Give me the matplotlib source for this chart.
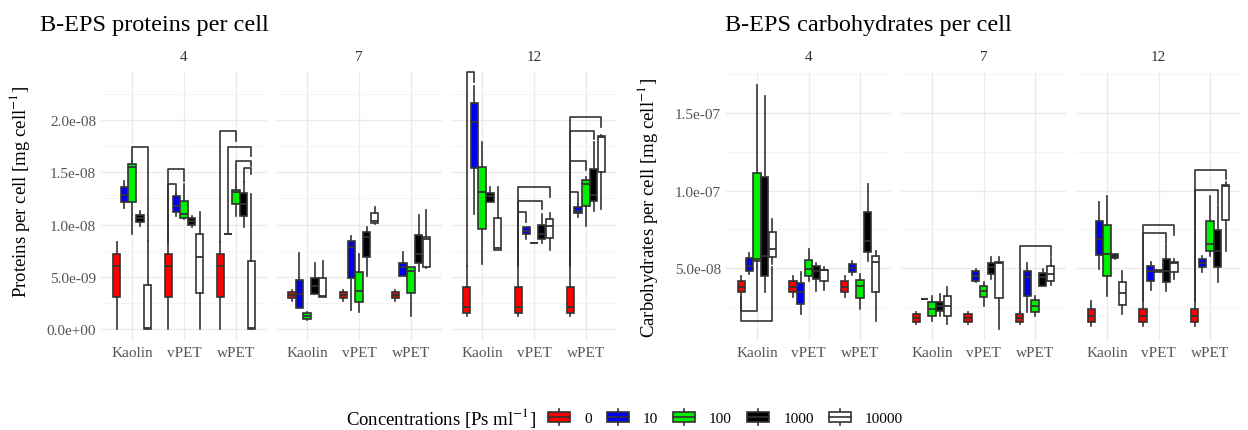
import matplotlib
matplotlib.use("Agg")
import matplotlib.pyplot as plt
from matplotlib.legend_handler import HandlerBase
from matplotlib.patches import Rectangle, Patch
from matplotlib.lines import Line2D
from matplotlib.ticker import FormatStrFormatter, MultipleLocator

plt.rcParams['font.family'] = ['Liberation Serif', 'DejaVu Serif']
plt.rcParams['mathtext.fontset'] = 'stix'

materials = ['Kaolin', 'vPET', 'wPET']
days = ['4', '7', '12']
concentrations = ['0', '10', '100', '1000', '10000']
conc_colors = ['#ff0000', '#0000ee', '#00ee00', '#000000', '#ffffff']

# box summaries: [whisker low, q1, median, q3, whisker high], one row per concentration
# proteins in 1e-9 mg/cell
prot_4_kaolin = [[0, 3.03, 6.06, 7.18, 8.29], [11.55, 12.19, 12.82, 13.56, 14.19], [9.09, 12.19, 15.47, 15.79, 16.11],
                 [9.89, 10.21, 10.59, 10.91, 11.32], [0, 0, 0.06, 4.21, 8.45]]
prot_4_vpet = [[0, 3.03, 6.06, 7.18, 8.29], [10.85, 11.16, 11.8, 12.76, 12.92], [10.53, 10.59, 11.0, 12.28, 13.88],
               [9.73, 9.95, 10.3, 10.59, 10.85], [0, 3.41, 6.92, 9.09, 11.16]]
prot_4_wpet = [[0, 3.03, 6.06, 7.18, 8.29], [9.09, 9.09, 9.09, 9.09, 9.09], [10.85, 11.96, 13.08, 13.33, 13.62],
               [9.79, 10.85, 11.96, 13.01, 14.03], [0, 0, 0.06, 6.54, 12.92]]
prot_7_kaolin = [[2.71, 2.93, 3.25, 3.51, 3.76], [1.98, 1.98, 3.35, 4.72, 7.24], [0.89, 0.96, 1.28, 1.53, 1.59],
                 [3.35, 3.35, 4.15, 4.88, 6.32], [3.03, 3.03, 3.19, 4.88, 6.48]]
prot_7_vpet = [[2.71, 2.93, 3.25, 3.51, 3.76], [1.85, 4.85, 7.82, 8.45, 8.93], [1.59, 2.55, 3.67, 5.42, 7.18],
               [5.1, 6.92, 8.77, 9.31, 9.73], [10.05, 10.11, 10.37, 11.07, 11.64]]
prot_7_wpet = [[2.71, 2.93, 3.25, 3.51, 3.76], [5.04, 5.04, 5.9, 6.32, 7.4], [1.28, 3.45, 5.58, 5.9, 5.9],
               [5.52, 6.32, 7.18, 9.03, 10.94], [5.84, 5.9, 8.61, 8.77, 11.42]]
prot_12_kaolin = [[1.28, 1.5, 2.07, 4.05, 6.06], [11.0, 15.37, 19.84, 21.6, 23.28], [6.22, 9.57, 13.08, 15.47, 17.86],
                  [12.12, 12.19, 12.7, 13.01, 13.56], [7.59, 7.59, 7.72, 10.62, 13.56]]
prot_12_vpet = [[1.28, 1.5, 2.07, 4.05, 6.06], [8.61, 9.09, 9.41, 9.73, 9.73], [8.23, 8.23, 8.23, 8.23, 8.23],
                [8.2, 8.61, 9.09, 9.98, 11.0], [7.56, 8.68, 9.89, 10.53, 11.1]]
prot_12_wpet = [[1.28, 1.5, 2.07, 4.05, 6.06], [10.69, 11.07, 11.32, 11.71, 11.96], [9.89, 11.8, 13.88, 14.29, 14.51],
                [11.32, 12.28, 12.82, 15.31, 17.86], [11.48, 14.99, 18.34, 18.5, 18.56]]

# carbohydrates in 1e-8 mg/cell
carb_4_kaolin = [[3.12, 3.44, 3.8, 4.18, 4.5], [4.6, 4.83, 5.15, 5.63, 6.0], [5.15, 5.47, 5.58, 11.1, 16.8],
                 [3.43, 4.5, 5.8, 10.9, 16.1], [5.26, 5.7, 6.2, 7.3, 8.16]]
carb_4_vpet = [[3.12, 3.44, 3.8, 4.18, 4.5], [2.03, 2.68, 3.43, 4.03, 4.72], [4.18, 4.5, 4.94, 5.52, 6.23],
               [3.54, 4.29, 4.79, 5.1, 5.32], [3.6, 4.18, 4.86, 4.9, 5.04]]
carb_4_wpet = [[3.12, 3.44, 3.8, 4.18, 4.5], [4.55, 4.72, 4.98, 5.26, 5.47], [2.35, 3.04, 3.86, 4.23, 4.6],
               [5.47, 6.05, 6.76, 8.63, 10.4], [1.6, 3.43, 5.37, 5.75, 6.12]]
carb_7_kaolin = [[1.39, 1.49, 1.75, 2.03, 2.14], [3.0, 3.0, 3.0, 3.0, 3.0], [1.6, 1.93, 2.35, 2.78, 3.17],
                 [1.93, 2.25, 2.57, 2.83, 3.32], [1.39, 1.93, 2.57, 3.17, 3.75]]
carb_7_vpet = [[1.39, 1.49, 1.75, 2.03, 2.14], [4.12, 4.18, 4.5, 4.78, 4.94], [2.57, 3.1, 3.5, 3.86, 4.12],
               [4.29, 4.61, 5.04, 5.32, 5.69], [1.06, 3.04, 5.32, 5.41, 5.69]]
carb_7_wpet = [[1.39, 1.49, 1.75, 2.03, 2.14], [2.14, 3.22, 4.4, 4.82, 5.32], [1.93, 2.18, 2.57, 2.96, 3.17],
               [3.82, 3.86, 4.4, 4.68, 4.94], [3.9, 4.18, 4.61, 5.1, 5.62]]
carb_12_kaolin = [[1.28, 1.54, 1.93, 2.35, 2.9], [4.94, 5.84, 6.88, 8.05, 9.24], [3.17, 4.5, 5.9, 7.78, 9.67],
                  [5.6, 5.64, 5.8, 5.9, 5.9], [2.03, 2.63, 3.37, 4.12, 4.83]]
carb_12_vpet = [[1.28, 1.54, 1.93, 2.35, 2.9], [3.6, 4.18, 4.83, 5.1, 5.37], [4.75, 4.75, 4.8, 4.85, 4.85],
                [3.5, 4.08, 4.83, 5.58, 6.48], [4.29, 4.76, 5.32, 5.41, 5.58]]
carb_12_wpet = [[1.28, 1.54, 1.93, 2.35, 2.9], [4.72, 5.04, 5.32, 5.58, 5.75], [5.8, 6.12, 6.55, 8.05, 9.62],
                [4.12, 5.04, 6.12, 7.47, 9.02], [6.12, 8.12, 10.27, 10.35, 10.57]]

# significance brackets: (material, conc a, conc b, bracket height, leg a end, leg b end)
prot_brackets = {
    '4': [(0, 2, 4, 17.38, 16.11, 8.45), (1, 0, 2, 15.3, 8.29, 14.2), (1, 0, 1, 13.9, 8.29, 12.92),
          (2, 0, 2, 18.98, 8.29, 18.0), (2, 1, 4, 17.4, 9.09, 16.6), (2, 2, 4, 16.1, 13.62, 15.6),
          (2, 3, 4, 15.4, 14.03, 14.8)],
    '7': [],
    '12': [(0, 0, 1, 24.56, 6.06, 23.6), (1, 0, 4, 13.56, 6.06, 12.6), (1, 0, 3, 12.28, 6.06, 11.48),
           (1, 0, 1, 11.16, 6.06, 10.2), (2, 0, 4, 20.26, 6.06, 19.3), (2, 0, 3, 18.98, 6.06, 18.18),
           (2, 0, 2, 16.05, 6.06, 15.2), (2, 0, 1, 13.08, 6.06, 11.96)],
}
carb_brackets = {
    '4': [(0, 0, 2, 2.25, 3.12, 5.15), (0, 0, 4, 1.6, 3.12, 5.05)],
    '7': [(2, 0, 4, 6.44, 2.14, 5.8)],
    '12': [(1, 0, 4, 7.8, 2.9, 7.15), (1, 0, 3, 7.25, 2.9, 6.6),
           (2, 0, 4, 11.34, 2.9, 10.74), (2, 0, 3, 10.03, 2.9, 9.1)],
}

prot_data = {'4': [prot_4_kaolin, prot_4_vpet, prot_4_wpet],
             '7': [prot_7_kaolin, prot_7_vpet, prot_7_wpet],
             '12': [prot_12_kaolin, prot_12_vpet, prot_12_wpet]}
carb_data = {'4': [carb_4_kaolin, carb_4_vpet, carb_4_wpet],
             '7': [carb_7_kaolin, carb_7_vpet, carb_7_wpet],
             '12': [carb_12_kaolin, carb_12_vpet, carb_12_wpet]}

W, H = 1248, 431
EDGE = '#333333'
STEP = 0.15
fig = plt.figure(figsize=(W / 100, H / 100), dpi=100)


def xpos(mat, k):
    return mat + 1 + (k - 2) * STEP


def draw_panel(ax, groups, brackets, scale):
    stats, pos, cols = [], [], []
    for j, boxes in enumerate(groups):
        for k, s in enumerate(boxes):
            lo, q1, med, q3, hi = [v * scale for v in s]
            stats.append({'whislo': lo, 'q1': q1, 'med': med, 'q3': q3, 'whishi': hi, 'fliers': []})
            pos.append(xpos(j, k))
            cols.append(conc_colors[k])
    bp = ax.bxp(stats, positions=pos, widths=0.14, patch_artist=True, showfliers=False, showcaps=False,
                boxprops=dict(edgecolor=EDGE, linewidth=1.2),
                medianprops=dict(color=EDGE, linewidth=1.3),
                whiskerprops=dict(color=EDGE, linewidth=1.2))
    for patch, c in zip(bp['boxes'], cols):
        patch.set_facecolor(c)
    for mat, ka, kb, top, ea, eb in brackets:
        xa, xb = xpos(mat, ka), xpos(mat, kb)
        ax.plot([xa, xa, xb, xb], [ea * scale, top * scale, top * scale, eb * scale],
                color=EDGE, lw=1.2, clip_on=False, zorder=5)
    ax.set_xlim(0.4, 3.6)
    ax.set_xticks([1, 2, 3])
    ax.set_xticklabels(materials)
    ax.set_axisbelow(True)
    ax.grid(which='major', color='#ebebeb', lw=1.0)
    ax.grid(which='minor', axis='y', color='#f4f4f4', lw=0.7)
    for sp in ax.spines.values():
        sp.set_visible(False)
    ax.tick_params(which='both', length=0, labelsize=11, labelcolor='#555555')


def add_group(lefts, width, data, brackets, scale, ylim, major, ylabel, title, title_x, ylabel_xy):
    axes = []
    top, bottom = 73, 342
    for i, (left, day) in enumerate(zip(lefts, days)):
        ax = fig.add_axes([left / W, 1 - bottom / H, width / W, (bottom - top) / H])
        draw_panel(ax, data[day], brackets[day], scale)
        ax.set_ylim(*ylim)
        ax.yaxis.set_major_locator(MultipleLocator(major))
        ax.yaxis.set_minor_locator(MultipleLocator(major / 2))
        ax.yaxis.set_major_formatter(FormatStrFormatter('%.1e'))
        if i > 0:
            ax.tick_params(labelleft=False)
        ax.text(0.5, 1 + 15 / (bottom - top), day, transform=ax.transAxes, ha='center', va='center',
                fontsize=11, color='#333333')
        axes.append(ax)
    fig.text(title_x / W, 1 - 25 / H, title, fontsize=17.5, va='center', ha='left')
    fig.text(ylabel_xy[0] / W, 1 - ylabel_xy[1] / H, ylabel, rotation=90, fontsize=13.5, ha='center', va='center')
    return axes


add_group([101, 276, 451], 166, prot_data, prot_brackets, 1e-9, (-1.15e-9, 2.46e-8), 5e-9,
          'Proteins per cell [mg cell$^{-1}$]', 'B-EPS proteins per cell', 40, (20, 192))
add_group([726, 901, 1076], 165, carb_data, carb_brackets, 1e-8, (0.29e-8, 17.65e-8), 5e-8,
          'Carbohydrates per cell [mg cell$^{-1}$]', 'B-EPS carbohydrates per cell', 725, (647, 208))


class BoxKey(HandlerBase):
    def create_artists(self, legend, orig_handle, xdescent, ydescent, width, height, fontsize, trans):
        x0, y0 = -xdescent, -ydescent
        fc = orig_handle.get_facecolor()
        rect = Rectangle((x0, y0 + 0.1 * height), width, 0.8 * height, facecolor=fc,
                         edgecolor=EDGE, lw=1.2, transform=trans)
        med = Line2D([x0, x0 + width], [y0 + 0.5 * height] * 2, color=EDGE, lw=1.2, transform=trans)
        wt = Line2D([x0 + width / 2] * 2, [y0 + 0.9 * height, y0 + 1.15 * height], color=EDGE, lw=1.2, transform=trans)
        wb = Line2D([x0 + width / 2] * 2, [y0 + 0.1 * height, y0 - 0.15 * height], color=EDGE, lw=1.2, transform=trans)
        return [wt, wb, rect, med]


handles = [Patch(facecolor=c) for c in conc_colors]
fig.text(536 / W, 1 - 418 / H, 'Concentrations [Ps ml$^{-1}$]', fontsize=13.5, ha='right', va='center')
fig.legend(handles, concentrations, handler_map={Patch: BoxKey()}, ncol=5, loc='center left',
           bbox_to_anchor=(548 / W, 1 - 419 / H), frameon=False, fontsize=11, handlelength=1.45,
           handleheight=0.9, handletextpad=0.9, columnspacing=1.0, borderpad=0, borderaxespad=0)

fig.savefig('out.png', dpi=100)
